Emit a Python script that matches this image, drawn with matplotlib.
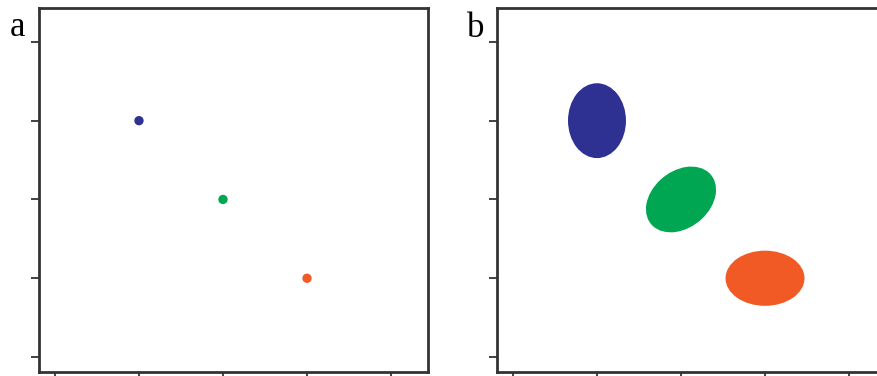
import matplotlib.pyplot as plt
from matplotlib.patches import Ellipse

# Three groups: centres, colours and (panel b) ellipse shapes
xs = [1, 2, 3]
ys = [3, 2, 1]
colors = ["#2e3192", "#00a651", "#f15a24"]
widths = [0.69, 0.95, 0.94]
heights = [0.95, 0.70, 0.70]
angles = [0, 45, 0]
ticks = [0, 1, 2, 3, 4]

fig = plt.figure(figsize=(8.77, 3.76), dpi=100)
ax_a = fig.add_axes([39 / 877, 4 / 376, 389 / 877, 364 / 376])
ax_b = fig.add_axes([497 / 877, 4 / 376, 389 / 877, 364 / 376])

for ax in (ax_a, ax_b):
    ax.set_xlim(-0.19, 4.44)
    ax.set_ylim(-0.19, 4.43)
    ax.set_xticks(ticks)
    ax.set_yticks(ticks)
    ax.set_xticklabels([])
    ax.set_yticklabels([])
    ax.tick_params(direction="out", length=6, width=1.3, color="#333333")
    for s in ax.spines.values():
        s.set_color("#333333")
        s.set_linewidth(2)

# panel a: means only
ax_a.scatter(xs, ys, s=45, c=colors, edgecolors="none", zorder=3)

# panel b: spread around each mean
for x, y, w, h, ang, c in zip(xs, ys, widths, heights, angles, colors):
    ax_b.add_patch(Ellipse((x, y), w, h, angle=ang, facecolor=c, edgecolor="none"))

fig.text(10 / 877, 1 - 36 / 376, "a", fontsize=25, family="Liberation Serif")
fig.text(467 / 877, 1 - 37 / 376, "b", fontsize=25, family="Liberation Serif")

fig.savefig("out.png", dpi=100)
